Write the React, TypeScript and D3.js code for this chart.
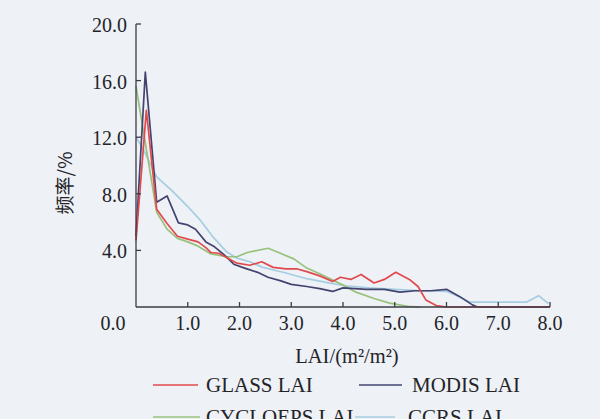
import React from "react";
import * as d3 from "d3";

// LAI frequency distributions (% of pixels per LAI bin)
const glassLai = [0, 0.2, 0.4, 0.6, 0.8, 1.0, 1.2, 1.35, 1.45, 1.6, 1.75, 1.95, 2.2, 2.43, 2.65, 2.9, 3.1, 3.3, 3.55, 3.8, 3.95, 4.15, 4.35, 4.6, 4.8, 5.02, 5.3, 5.45, 5.6, 5.8, 6.0, 8.0];
const glassFreq = [4.7, 13.9, 6.9, 5.9, 5.0, 4.8, 4.6, 4.2, 3.85, 3.8, 3.5, 3.1, 2.95, 3.2, 2.8, 2.7, 2.7, 2.5, 2.2, 1.8, 2.1, 1.95, 2.3, 1.7, 1.95, 2.45, 1.9, 1.45, 0.5, 0.1, 0, 0];

const modisLai = [0, 0.18, 0.4, 0.6, 0.82, 1.0, 1.15, 1.35, 1.5, 1.7, 1.9, 2.1, 2.35, 2.55, 2.8, 3.0, 3.3, 3.55, 3.8, 4.0, 4.45, 4.8, 5.1, 5.4, 5.7, 6.0, 6.25, 6.5, 6.6, 8.0];
const modisFreq = [5.0, 16.6, 7.4, 7.85, 5.95, 5.8, 5.5, 4.6, 4.3, 3.7, 3.0, 2.75, 2.45, 2.1, 1.85, 1.6, 1.45, 1.3, 1.1, 1.35, 1.25, 1.25, 1.05, 1.15, 1.15, 1.25, 0.75, 0.15, 0, 0];

const cycloLai = [0, 0.4, 0.6, 0.8, 1.0, 1.2, 1.45, 1.75, 1.95, 2.15, 2.55, 2.72, 3.05, 3.3, 3.55, 3.8, 4.0, 4.25, 4.6, 4.9, 5.25, 5.5];
const cycloFreq = [15.6, 6.7, 5.5, 4.85, 4.6, 4.3, 3.75, 3.55, 3.55, 3.85, 4.15, 3.9, 3.4, 2.75, 2.35, 1.9, 1.55, 1.05, 0.6, 0.27, 0.05, 0];

const ccrsLai = [0, 0.12, 0.4, 0.7, 1.0, 1.25, 1.5, 1.75, 1.95, 2.2, 2.45, 2.9, 3.3, 3.8, 4.05, 4.5, 5.0, 5.5, 6.0, 6.2, 6.45, 7.0, 7.55, 7.78, 7.97];
const ccrsFreq = [12.0, 11.3, 9.2, 8.2, 7.1, 6.1, 4.9, 3.9, 3.45, 3.2, 2.8, 2.4, 2.0, 1.65, 1.5, 1.35, 1.25, 1.15, 1.1, 0.8, 0.35, 0.35, 0.35, 0.8, 0.25];

const xTicks = [1, 2, 3, 4, 5, 6, 7, 8];
const yTicks = [4, 8, 12, 16, 20];

const seriesNames = ["GLASS LAI", "MODIS LAI", "CYCLOEPS LAI", "CCRS LAI"];

type Series = { name: string; lai: number[]; freq: number[]; color: string };

const series: Series[] = [
  { name: seriesNames[3], lai: ccrsLai, freq: ccrsFreq, color: "#a6cde0" },
  { name: seriesNames[2], lai: cycloLai, freq: cycloFreq, color: "#98c27c" },
  { name: seriesNames[1], lai: modisLai, freq: modisFreq, color: "#43446f" },
  { name: seriesNames[0], lai: glassLai, freq: glassFreq, color: "#e04a4e" },
];

const serif = "Liberation Serif";
const textColor = "#242428";

export default function App() {
  const width = 600;
  const height = 419;
  const x = d3.scaleLinear().domain([0, 8]).range([136, 550]);
  const y = d3.scaleLinear().domain([0, 20]).range([307, 24]);

  const line = d3
    .line<[number, number]>()
    .x((d) => x(d[0]))
    .y((d) => y(d[1]));

  const legendItems = [
    { name: seriesNames[0], color: "#e04a4e", lx: 153, lw: 45, tx: 206, row: 0 },
    { name: seriesNames[1], color: "#43446f", lx: 359, lw: 43, tx: 412, row: 0 },
    { name: seriesNames[2], color: "#98c27c", lx: 153, lw: 47, tx: 206, row: 1 },
    { name: seriesNames[3], color: "#a6cde0", lx: 355, lw: 40, tx: 408, row: 1 },
  ];

  return (
    <svg
      width={width}
      height={height}
      style={{ position: "absolute", left: 0, top: 0, background: "#eef1f6" }}
    >
      <rect x={0} y={0} width={width} height={height} fill="#eef1f6" />

      {/* data lines */}
      {series.map((s) => (
        <path
          key={s.name}
          d={line(s.lai.map((v, i) => [v, s.freq[i]] as [number, number])) || ""}
          fill="none"
          stroke={s.color}
          strokeWidth={1.7}
          strokeLinejoin="round"
        />
      ))}

      {/* axes */}
      <g stroke="#3c3c44" strokeWidth={1.3} fill="none">
        <line x1={x(0)} x2={x(0)} y1={y(20)} y2={y(0)} />
        <line x1={x(0)} x2={x(8)} y1={y(0)} y2={y(0)} />
        {yTicks.map((t) => (
          <line key={"yt" + t} x1={x(0)} x2={x(0) + 5} y1={y(t)} y2={y(t)} />
        ))}
        {xTicks.map((t) => (
          <line key={"xt" + t} x1={x(t)} x2={x(t)} y1={y(0)} y2={y(0) - 5} />
        ))}
      </g>

      {/* tick labels */}
      <g fontFamily={serif} fontSize={20} fill={textColor}>
        {yTicks.map((t) => (
          <text key={"yl" + t} x={127} y={y(t) + 1} dy="0.35em" textAnchor="end">
            {t.toFixed(1)}
          </text>
        ))}
        <text x={113} y={330} textAnchor="middle">
          {(0).toFixed(1)}
        </text>
        {xTicks.map((t) => (
          <text key={"xl" + t} x={x(t)} y={330} textAnchor="middle">
            {t.toFixed(1)}
          </text>
        ))}
      </g>

      {/* axis titles */}
      <text
        x={347}
        y={363}
        textAnchor="middle"
        fontFamily={serif}
        fontSize={20.5}
        fill={textColor}
      >
        LAI/(m²/m²)
      </text>
      <text
        transform="translate(72,183) rotate(-90)"
        textAnchor="middle"
        fontFamily="Noto Sans CJK SC"
        fontSize={19}
        fill={textColor}
      >
        频率/%
      </text>

      {/* legend */}
      {legendItems.map((it) => {
        const ly = it.row === 0 ? 385 : 417;
        return (
          <g key={it.name}>
            <line x1={it.lx} x2={it.lx + it.lw} y1={ly} y2={ly} stroke={it.color} strokeWidth={1.6} />
            <text x={it.tx} y={ly + 7} fontFamily={serif} fontSize={21} fill={textColor}>
              {it.name}
            </text>
          </g>
        );
      })}
    </svg>
  );
}
